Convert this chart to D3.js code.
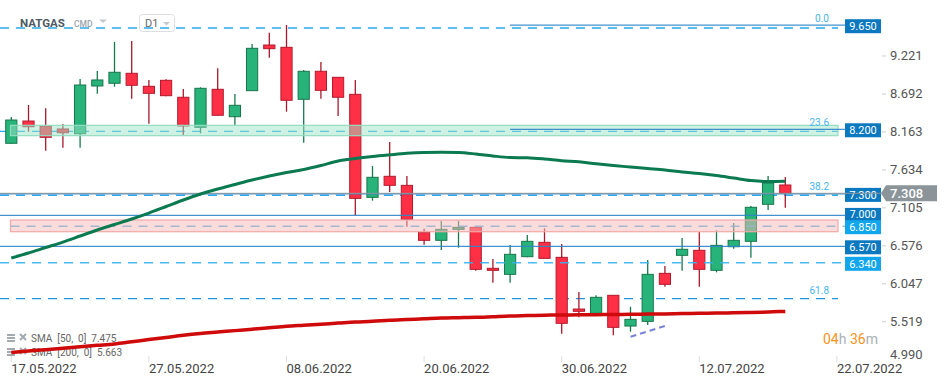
<!DOCTYPE html>
<html>
<head>
<meta charset="utf-8">
<script src="https://cdn.jsdelivr.net/npm/d3@7"></script>
<style>
  body { margin: 0; background: #fff; }
  svg { display: block; font-family: Roboto, "Open Sans", sans-serif; }
</style>
</head>
<body>
<div id="chart"></div>
<script>
// NATGAS daily candles, 17.05.2022 - 19.07.2022
const dates = ["17.05.2022","18.05.2022","19.05.2022","20.05.2022","23.05.2022","24.05.2022","25.05.2022","26.05.2022","27.05.2022","30.05.2022","31.05.2022",
  "01.06.2022","02.06.2022","03.06.2022","06.06.2022","07.06.2022","08.06.2022","09.06.2022","10.06.2022","13.06.2022","14.06.2022","15.06.2022","16.06.2022","17.06.2022","20.06.2022","21.06.2022","22.06.2022","23.06.2022","24.06.2022","27.06.2022","28.06.2022","29.06.2022","30.06.2022",
  "01.07.2022","04.07.2022","05.07.2022","06.07.2022","07.07.2022","08.07.2022","11.07.2022","12.07.2022","13.07.2022","14.07.2022","15.07.2022","18.07.2022","19.07.2022"];
const futureDates = ["20.07.2022","21.07.2022","22.07.2022"];

const open  = [8.005,8.315,8.246,8.204,8.138,8.803,8.841,8.980,8.799,8.882,8.646,8.227,8.757,8.375,8.738,9.374,9.342,8.618,9.008,8.924,8.687,7.252,7.545,7.419,6.765,6.653,6.806,6.834,6.263,6.179,6.425,6.625,6.416,5.696,5.636,5.887,5.459,5.524,6.193,6.444,6.514,6.235,6.564,6.639,7.155,7.424];
const high  = [8.371,8.538,8.492,8.274,8.901,9.012,9.416,9.430,8.887,8.896,8.761,8.785,9.050,8.692,9.388,9.546,9.653,9.026,9.137,8.930,8.887,7.688,8.023,7.549,6.815,6.922,6.922,6.840,6.393,6.588,6.727,6.820,6.601,5.933,5.887,5.887,5.728,6.379,6.295,6.685,6.769,6.793,6.894,7.131,7.549,7.535];
const low   = [8.000,8.166,7.902,7.943,7.943,8.696,8.793,8.626,8.278,8.660,8.120,8.144,8.395,8.260,8.738,9.197,8.445,8.013,8.626,8.385,7.006,7.205,7.326,6.843,6.592,6.518,6.550,6.230,6.062,6.062,6.416,6.402,5.352,5.580,5.636,5.329,5.380,5.473,6.006,6.230,6.006,6.207,6.536,6.411,7.075,7.107];
const close = [8.329,8.236,8.088,8.152,8.817,8.887,8.994,8.813,8.701,8.668,8.246,8.771,8.395,8.534,9.328,9.323,8.604,9.008,8.743,8.646,7.238,7.531,7.419,6.946,6.653,6.806,6.834,6.249,6.235,6.458,6.639,6.402,5.497,5.664,5.859,5.441,5.552,6.179,6.040,6.528,6.249,6.583,6.653,7.113,7.452,7.308];

const sma50  = [6.407,6.476,6.553,6.629,6.713,6.797,6.873,6.950,7.033,7.124,7.215,7.298,7.368,7.431,7.493,7.549,7.598,7.640,7.695,7.758,7.793,7.821,7.844,7.865,7.876,7.879,7.876,7.856,7.828,7.807,7.803,7.786,7.762,7.747,7.719,7.695,7.674,7.653,7.632,7.605,7.584,7.556,7.521,7.486,7.472,7.475];
const sma200 = [5.090,5.110,5.130,5.150,5.170,5.190,5.210,5.240,5.270,5.300,5.330,5.355,5.375,5.395,5.415,5.435,5.455,5.470,5.485,5.500,5.515,5.525,5.540,5.550,5.560,5.570,5.575,5.580,5.590,5.600,5.605,5.610,5.613,5.615,5.617,5.620,5.622,5.625,5.628,5.632,5.636,5.640,5.643,5.648,5.655,5.663];

const priceTicks = [9.221, 8.692, 8.163, 7.634, 7.105, 6.576, 6.047, 5.519, 4.990];
const axisDates = ["17.05.2022","27.05.2022","08.06.2022","20.06.2022","30.06.2022","12.07.2022","22.07.2022"];

const levelValues = [9.650, 8.200, 7.300, 7.000, 6.570, 6.340, 6.850];
const levelLabels = ["9.650","8.200","7.300","7.000","6.570","6.340","6.850"];
const fibNames  = ["0.0", "23.6", "38.2", "61.8"];
const fibValues = [9.611, 8.172, 7.281, 5.842];
const greenZone = [8.111, 8.255];
const redZone   = [6.773, 6.936];
const trendDates  = ["06.07.2022", "08.07.2022"];
const trendValues = [5.31, 5.46];
const lastPrice = 7.308;

const W = 949, H = 385;
const svg = d3.select("#chart").append("svg").attr("width", W).attr("height", H);

const x = d3.scaleBand().domain(dates.concat(futureDates)).range([2.7, 845.5]);
const cx = d => x(d) + x.bandwidth() / 2;
const y = d3.scaleLinear().domain([4.99, 9.65]).range([359.7, 25.2]);

const plotLeft = 0, plotRight = 838, boxX = 845;

const candles = dates.map((d, i) => ({ date: d, o: open[i], h: high[i], l: low[i], c: close[i] }));

// header
const head = svg.append("g");
head.append("rect").attr("x", 139.5).attr("y", 14.5).attr("width", 35).attr("height", 17).attr("rx", 3)
  .attr("fill", "#fff").attr("stroke", "#dcdfe2");

// fib dashed lines
svg.append("g").selectAll("line").data(fibValues).join("line")
  .attr("x1", plotLeft).attr("x2", plotRight)
  .attr("y1", d => y(d)).attr("y2", d => y(d))
  .attr("stroke", (d, i) => i == 3 ? "#1e96d8" : "#2aa9ee").attr("stroke-width", 1.3)
  .attr("stroke-dasharray", "9,7");

// candles
const cg = svg.append("g");
cg.selectAll("line").data(candles).join("line")
  .attr("x1", d => cx(d.date)).attr("x2", d => cx(d.date))
  .attr("y1", d => y(d.h)).attr("y2", d => y(d.l))
  .attr("stroke", d => d.c >= d.o ? "#177a4d" : "#a8192b").attr("stroke-width", 1.3);
cg.selectAll("rect").data(candles).join("rect")
  .attr("x", d => cx(d.date) - 5.6).attr("width", 11.2)
  .attr("y", d => y(Math.max(d.o, d.c)))
  .attr("height", d => Math.max(1.5, Math.abs(y(d.o) - y(d.c))))
  .attr("fill", d => d.c >= d.o ? "#27b37a" : "#ff3045")
  .attr("stroke", d => d.c >= d.o ? "#17774b" : "#b3192c").attr("stroke-width", 1);

// zones
function zone(v, fill, stroke) {
  svg.append("rect").attr("x", 10.5).attr("width", plotRight - 10.5)
    .attr("y", y(v[1])).attr("height", y(v[0]) - y(v[1]))
    .attr("fill", fill).attr("fill-opacity", 0.5).attr("stroke", stroke).attr("stroke-width", 1.2);
}
zone(greenZone, "rgb(155,227,200)", "#93dcc0");
zone(redZone, "rgb(247,185,185)", "#f2a8a8");

// level lines
const lg = svg.append("g");
levelValues.forEach((v, i) => {
  const lab = levelLabels[i];
  const partial = lab == "9.650" || lab == "8.200";
  const dashed = lab == "6.340" || lab == "6.850";
  const xs = partial ? cx("27.06.2022") : (lab == "6.850" ? 10.5 : plotLeft);
  lg.append("line").attr("x1", xs).attr("x2", boxX)
    .attr("y1", y(v)).attr("y2", y(v))
    .attr("stroke", lab == "6.850" ? "#9cb2cc" : (lab == "6.340" ? "#35b3f2" : "#2f86c8"))
    .attr("stroke-width", dashed ? 1.5 : 1.3)
    .attr("stroke-opacity", 0.9)
    .attr("stroke-dasharray", dashed ? "9,7" : null);
});
// current price line
svg.append("line").attr("x1", plotLeft).attr("x2", 882)
  .attr("y1", y(lastPrice)).attr("y2", y(lastPrice))
  .attr("stroke", "#8e979c").attr("stroke-width", 1);

// legend
const leg = svg.append("g").attr("font-size", 10).attr("fill", "#666");
[["SMA  [50,  0]  7.475", 342], ["SMA  [200,  0]  5.663", 356]].forEach(([t, by]) => {
  leg.append("rect").attr("x", 7).attr("y", by - 8).attr("width", 8).attr("height", 2).attr("fill", "#a3aab0");
  leg.append("rect").attr("x", 7).attr("y", by - 5).attr("width", 8).attr("height", 2).attr("fill", "#a3aab0");
  leg.append("rect").attr("x", 7).attr("y", by - 2).attr("width", 8).attr("height", 2).attr("fill", "#a3aab0");
  leg.append("path").attr("d", `M20,${by - 8}L26,${by - 2}M26,${by - 8}L20,${by - 2}`)
    .attr("stroke", "#a3aab0").attr("stroke-width", 2);
  leg.append("text").attr("x", 31).attr("y", by).style("white-space", "pre").text(t);
});

// moving averages
const line = d3.line().x(d => cx(d[0])).y(d => y(d[1])).curve(d3.curveMonotoneX);
svg.append("path").datum(dates.map((d, i) => [d, sma200[i]])).attr("d", line)
  .attr("fill", "none").attr("stroke", "#cf0a0a").attr("stroke-width", 3.5);
svg.append("path").datum(dates.map((d, i) => [d, sma50[i]])).attr("d", line)
  .attr("fill", "none").attr("stroke", "#0b7a50").attr("stroke-width", 3);

// trend line
svg.append("line")
  .attr("x1", cx(trendDates[0])).attr("y1", y(trendValues[0]))
  .attr("x2", cx(trendDates[1])).attr("y2", y(trendValues[1]))
  .attr("stroke", "#7b82d8").attr("stroke-width", 2).attr("stroke-dasharray", "6,4");

// fib labels
svg.append("g").selectAll("text").data(fibNames).join("text")
  .attr("x", 829).attr("y", (d, i) => y(fibValues[i]) - (i == 0 ? 6 : 5))
  .attr("text-anchor", "end").attr("font-size", 10).attr("fill", "#46b4f0").text(d => d);

// level label boxes
levelValues.forEach((v, i) => {
  const lab = levelLabels[i];
  const light = lab == "6.850" || lab == "6.340";
  const cy = y(v) + (lab == "7.000" ? -0.5 : 1);
  lg.append("rect").attr("x", boxX).attr("y", cy - 7).attr("width", 36).attr("height", 14)
    .attr("fill", light ? "#12a6ec" : "#0b79bf");
  lg.append("text").attr("x", boxX + 18).attr("y", cy + (lab == "7.000" ? 3.5 : 4)).attr("text-anchor", "middle")
    .attr("font-size", lab == "7.000" ? 10.5 : 11).attr("fill", "#fff").text(lab);
});

// right price axis
const ax = svg.append("g");
priceTicks.forEach((v, i) => {
  const cy = Math.min(y(v), 354);
  if (i < priceTicks.length - 1)
    ax.append("line").attr("x1", 882).attr("x2", 886).attr("y1", cy).attr("y2", cy).attr("stroke", "#ccc");
  ax.append("text").attr("x", 890).attr("y", cy + 4.5).attr("font-size", 13).attr("fill", "#555")
    .text(d3.format(".3f")(v));
});

// last price tag
const ty = y(lastPrice);
svg.append("path")
  .attr("d", `M881,${ty}L886,${ty - 8}L937,${ty - 8}L937,${ty + 8}L886,${ty + 8}Z`)
  .attr("fill", "#8a9499");
svg.append("text").attr("x", 890).attr("y", ty + 4.5).attr("font-size", 13).attr("font-weight", 500)
  .attr("fill", "#fff").text(d3.format(".3f")(lastPrice));

// date axis
const dg = svg.append("g");
axisDates.forEach(d => {
  dg.append("line").attr("x1", cx(d)).attr("x2", cx(d)).attr("y1", 356).attr("y2", 362).attr("stroke", "#ddd");
  dg.append("text").attr("x", cx(d)).attr("y", 372.5).attr("font-size", 13).attr("fill", "#444").text(d);
});

// countdown
const cd = svg.append("text").attr("x", 823).attr("y", 344).attr("font-size", 14);
cd.append("tspan").attr("fill", "#f7941d").text("04");
cd.append("tspan").attr("fill", "#aab0b5").text("h ");
cd.append("tspan").attr("fill", "#f7941d").text("36");
cd.append("tspan").attr("fill", "#aab0b5").text("m");

// header texts
head.append("text").attr("x", 20).attr("y", 26.5).attr("font-size", 11.5).attr("font-weight", 700)
  .attr("fill", "#4d5964").text("NATGAS");
head.append("text").attr("x", 74).attr("y", 26.5).attr("font-size", 8.5).attr("font-weight", 500)
  .attr("fill", "#9aa3aa").text("CMD");
head.append("path").attr("d", "M99,19.5L107,19.5L103,23Z").attr("fill", "#c4c9cd");
head.append("text").attr("x", 145).attr("y", 27).attr("font-size", 11).attr("fill", "#666").text("D1");
head.append("path").attr("d", "M163,22L170,22L166.5,25.5Z").attr("fill", "#c4c9cd");
</script>
</body>
</html>
